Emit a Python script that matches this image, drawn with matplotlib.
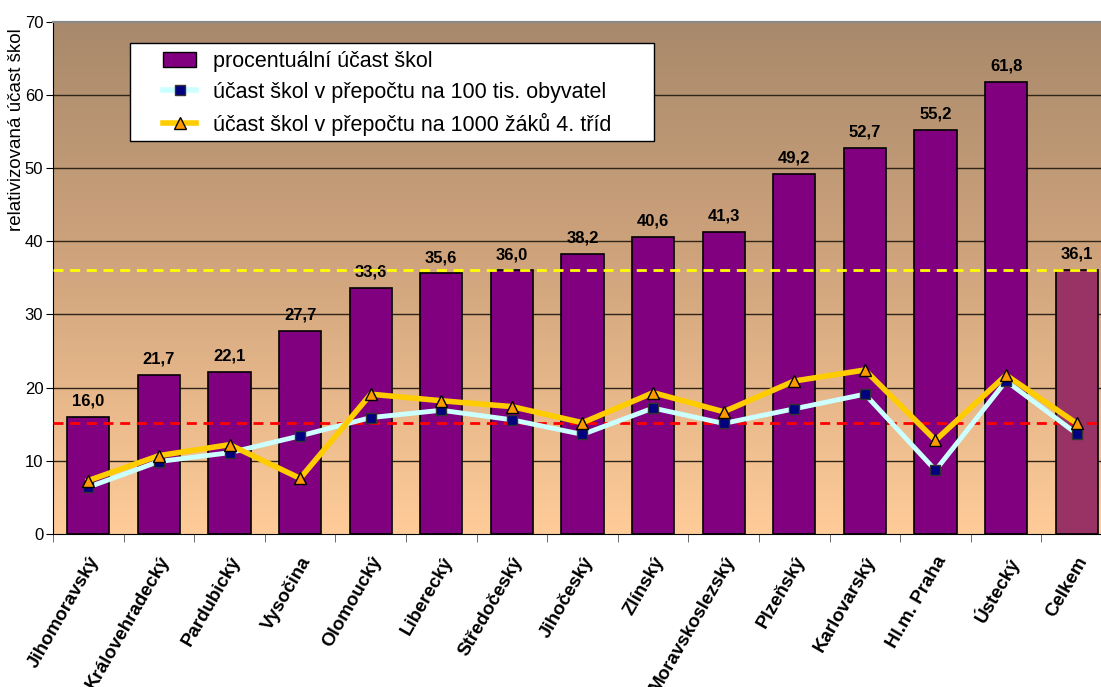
import matplotlib.pyplot as plt
import numpy as np
from matplotlib.colors import LinearSegmentedColormap
from matplotlib.lines import Line2D
from matplotlib.patches import Patch, Rectangle

plt.rcParams["font.family"] = ["Liberation Sans", "DejaVu Sans"]

regions = ["Jihomoravský", "Královehradecký", "Pardubický", "Vysočina", "Olomoucký",
           "Liberecký", "Středočeský", "Jihočeský", "Zlínský", "Moravskoslezský",
           "Plzeňský", "Karlovarský", "Hl.m. Praha", "Ústecký", "Celkem"]
pct_share = [16.0, 21.7, 22.1, 27.7, 33.6, 35.6, 36.0, 38.2, 40.6, 41.3,
             49.2, 52.7, 55.2, 61.8, 36.1]
per_100k = [6.4, 9.9, 11.1, 13.4, 15.9, 16.9, 15.6, 13.6, 17.2, 15.1,
            17.1, 19.1, 8.7, 20.9, 13.7]
per_1000 = [7.3, 10.7, 12.2, 7.6, 19.1, 18.2, 17.4, 15.2, 19.3, 16.7,
            20.9, 22.4, 12.8, 21.7, 15.1]
avg_pct = 36.1
avg_1000 = 15.2

W, H = 1101, 687
fig = plt.figure(figsize=(W / 100, H / 100), dpi=100)
ax = fig.add_axes([53 / W, 1 - 534 / H, 1059 / W, 512.5 / H])

x = np.arange(len(regions))

# gradient background of the plot area
grad = np.linspace(0, 1, 256).reshape(-1, 1)
cmap = LinearSegmentedColormap.from_list("bg", ["#FFCC99", "#D2A67E", "#A8896B"])
ax.imshow(grad, extent=[-0.5, 14.5, 0, 70], origin="lower", aspect="auto",
          cmap=cmap, zorder=0)

for yv in range(10, 70, 10):
    ax.axhline(yv, color="#2e2418", lw=1.0, zorder=1)

colors = ["#800080"] * (len(regions) - 1) + ["#993366"]
ax.bar(x, pct_share, width=0.6, color=colors, edgecolor="black", lw=1.2, zorder=2)

for xi, v in zip(x, pct_share):
    ax.annotate(f"{v:.1f}".replace(".", ","), (xi, v), xytext=(0, 6),
                textcoords="offset points", ha="center", va="bottom",
                fontsize=12, fontweight="bold", zorder=3)

dash = (0, (3.6, 2.4))
ax.axhline(avg_pct, color="#FFFF00", lw=2, ls=dash, zorder=4)
ax.axhline(avg_1000, color="#FF0000", lw=2, ls=dash, zorder=4)

ax.plot(x, per_100k, color="#CCFFFF", lw=3.5, marker="s", ms=7,
        mfc="#000080", mec="#333333", mew=1, zorder=5)
ax.plot(x, per_1000, color="#FFCC00", lw=4, marker="^", ms=9,
        mfc="#FF9900", mec="black", mew=1, zorder=6)

ax.set_xlim(-0.5, 14.5)
ax.set_ylim(0, 70)
ax.set_yticks(range(0, 71, 10))
ax.tick_params(axis="y", labelsize=12, length=5, pad=2)
ax.set_xticks(x)
ax.set_xticklabels(regions, rotation=60, ha="right", rotation_mode="anchor",
                   fontsize=13.5, fontweight="bold")
ax.tick_params(axis="x", which="major", length=0, pad=14)
ax.set_xticks(np.arange(-0.5, 14.5, 1), minor=True)
ax.tick_params(axis="x", which="minor", length=6, color="#555555")

ax.spines["right"].set_visible(False)
ax.spines["top"].set_color("#8a8a8a")
ax.spines["top"].set_linewidth(1.6)

fig.text(17 / W, 1 - 130 / H, "relativizovaná účast škol", rotation=90,
         ha="center", va="center", fontsize=13.5)

# legend box
fig.patches.append(Rectangle((130 / W, 1 - 141 / H), 524 / W, 98 / H,
                             transform=fig.transFigure, facecolor="white",
                             edgecolor="black", lw=1, zorder=9))
handles = [
    Patch(facecolor="#800080", edgecolor="black"),
    Line2D([], [], color="#CCFFFF", lw=4, marker="s", ms=7, mfc="#000080", mec="#333333"),
    Line2D([], [], color="#FFCC00", lw=4, marker="^", ms=9, mfc="#FF9900", mec="black"),
]
labels = ["procentuální účast škol",
          "účast škol v přepočtu na 100 tis. obyvatel",
          "účast škol v přepočtu na 1000 žáků 4. tříd"]
leg = fig.legend(handles, labels, loc="upper left",
                 bbox_to_anchor=(163 / W, 1 - 51 / H), fontsize=15.5,
                 frameon=False, handlelength=1.55, borderpad=0,
                 borderaxespad=0, labelspacing=0.46, handletextpad=0.75)
leg.set_zorder(10)

fig.savefig("out.png", dpi=100)
